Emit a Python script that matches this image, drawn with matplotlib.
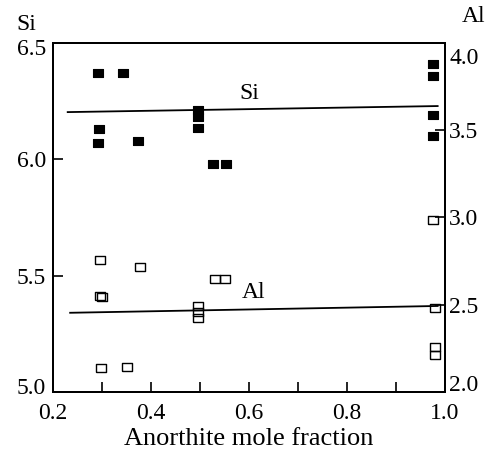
import matplotlib
matplotlib.use("Agg")
import matplotlib.pyplot as plt
from matplotlib.transforms import ScaledTranslation

plt.rcParams['font.family'] = ['Liberation Serif', 'DejaVu Serif']

# Si (filled squares, left axis)
si_x = [0.291, 0.342, 0.294, 0.292, 0.374, 0.496, 0.496, 0.496, 0.527, 0.553,
        0.976, 0.976, 0.976, 0.976]
si_y = [6.37, 6.37, 6.13, 6.07, 6.08, 6.21, 6.18, 6.135, 5.98, 5.98,
        6.41, 6.36, 6.19, 6.10]

# Al (open squares, right axis)
al_x = [0.296, 0.378, 0.296, 0.300, 0.496, 0.496, 0.496, 0.531, 0.551,
        0.297, 0.350, 0.976, 0.980, 0.980, 0.980]
al_y = [2.756, 2.716, 2.55, 2.544, 2.493, 2.458, 2.424, 2.648, 2.648,
        2.14, 2.145, 2.986, 2.48, 2.26, 2.21]

# regression lines
si_fit_x = [0.23, 0.985]
si_fit_y = [6.203, 6.229]
al_fit_x = [0.235, 0.985]
al_fit_y = [2.454, 2.493]

x_major = [0.2, 0.4, 0.6, 0.8, 1.0]
x_minor = [0.3, 0.5, 0.7, 0.9]
si_ticks = [5.0, 5.5, 6.0, 6.5]
al_ticks = [2.0, 2.5, 3.0, 3.5, 4.0]

FS = 17
rect = [(-1, -0.8), (1, -0.8), (1, 0.8), (-1, 0.8), (-1, -0.8)]

fig = plt.figure(figsize=(4.88, 4.53), dpi=100)
ax = fig.add_axes([53 / 488, 1 - 392 / 453, 392 / 488, 349 / 453])
ax2 = ax.twinx()

ax.plot(si_fit_x, si_fit_y, color='black', lw=1.3)
ax.plot(si_x, si_y, linestyle='none', marker=rect, ms=7.5,
        mfc='black', mec='black', mew=0.8)
ax.text(0.6, 6.285, "Si", fontsize=FS, ha='center', va='center')

ax2.plot(al_fit_x, al_fit_y, color='black', lw=1.3)
ax2.plot(al_x, al_y, linestyle='none', marker=rect, ms=7.5,
         mfc='none', mec='black', mew=1.0)
ax2.text(0.61, 2.573, "Al", fontsize=FS, ha='center', va='center')

ax.set_xlim(0.2, 1.0)
ax.set_ylim(5.0, 6.5)
ax2.set_ylim(2.0, 4.0)

ax.set_xticks(x_major)
ax.set_xticks(x_minor, minor=True)
ax.set_xticklabels([f"{v:.1f}" for v in x_major])
ax.set_yticks(si_ticks)
ax.set_yticklabels([f"{v:.1f}" for v in si_ticks])
ax2.set_yticks(al_ticks)
ax2.set_yticklabels([f"{v:.1f}" for v in al_ticks])

ax.tick_params(axis='x', which='both', direction='in', length=7, width=1.2,
               labelsize=FS, pad=8, top=False)
ax.tick_params(axis='y', direction='in', length=7, width=1.2,
               labelsize=FS, pad=5, right=False)
ax2.tick_params(axis='y', direction='in', length=7, width=1.2,
                labelsize=FS, pad=3)

for a in (ax, ax2):
    for s in a.spines.values():
        s.set_linewidth(1.4)

# nudge corner labels like in the scanned figure
def nudge(label, dy_px):
    off = ScaledTranslation(0, dy_px / 100, fig.dpi_scale_trans)
    label.set_transform(label.get_transform() + off)

left_labels = ax.get_yticklabels()
right_labels = ax2.get_yticklabels()
nudge(left_labels[0], 6)
nudge(left_labels[-1], -4)
nudge(right_labels[0], 9)
nudge(right_labels[-1], -13)

ax.set_xlabel("Anorthite mole fraction", fontsize=19, labelpad=3)

fig.text(26 / 488, 1 - 25 / 453, "Si", fontsize=FS, ha='center', va='center')
fig.text(474 / 488, 1 - 16 / 453, "Al", fontsize=FS, ha='center', va='center')

fig.savefig("out.png", dpi=100)
